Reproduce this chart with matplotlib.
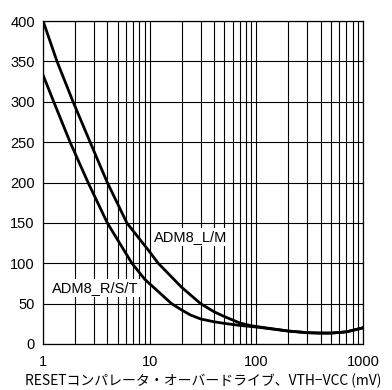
import matplotlib
matplotlib.use("Agg")
import matplotlib.pyplot as plt

plt.rcParams['font.family'] = ['Liberation Sans', 'Noto Sans CJK JP', 'DejaVu Sans']

# data (x: overdrive in mV, y: value)
lm_x = [1, 1.35, 1.91, 2.76, 4.0, 6.1, 10, 12, 20, 30, 40, 50, 70, 90, 200, 300, 400, 500, 700, 1000]
lm_y = [400, 350, 300, 250, 200, 150, 114, 100, 70, 50, 40, 34, 26, 22.5, 16, 14, 13.5, 13.5, 15, 20]

rst_x = [1, 1.24, 1.79, 2.64, 4.0, 6.8, 9, 16, 20, 24, 30, 40, 50, 70, 100, 200, 300, 400, 500, 700, 1000]
rst_y = [333, 302, 250, 200, 150, 100, 80, 50, 42, 36, 31, 27.5, 25.5, 23, 21, 16, 14, 13.5, 13.5, 15, 20]

x_ticks = [1, 10, 100, 1000]
y_ticks = [0, 50, 100, 150, 200, 250, 300, 350, 400]

fig = plt.figure(figsize=(3.92, 3.90), dpi=100)
ax = fig.add_axes([0.110, 0.118, 0.816, 0.828])

ax.plot(lm_x, lm_y, color='black', lw=2.0, zorder=3)
ax.plot(rst_x, rst_y, color='black', lw=2.0, zorder=3)

ax.set_xscale('log')
ax.set_xlim(1, 1000)
ax.set_ylim(0, 400)
ax.set_xticks(x_ticks)
ax.set_xticklabels([str(t) for t in x_ticks])
ax.set_yticks(y_ticks)
ax.grid(True, which='both', axis='x', color='black', lw=0.8)
ax.grid(True, which='major', axis='y', color='black', lw=0.8)
ax.tick_params(which='both', length=0, labelsize=10.5, pad=8)
ax.tick_params(axis='y', pad=6)
for s in ax.spines.values():
    s.set_color('black')
    s.set_linewidth(0.9)

box = dict(facecolor='white', edgecolor='none', pad=1.5)
ax.text(3.07, 69, 'ADM8_R/S/T', ha='center', va='center', fontsize=10.5, bbox=box, zorder=4)
ax.text(24.4, 133, 'ADM8_L/M', ha='center', va='center', fontsize=10.5, bbox=box, zorder=4)

ax.set_xlabel('RESETコンパレータ・オーバードライブ、VTH−VCC (mV)', fontsize=10, labelpad=3,
              family=['Noto Sans CJK JP', 'DejaVu Sans'])

fig.savefig('out.png', dpi=100)
